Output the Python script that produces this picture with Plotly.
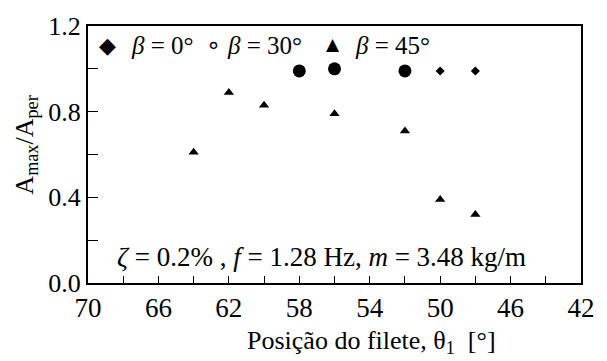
import plotly.graph_objects as go

# Amplitude ratio A_max/A_per against fillet position theta_1, for three helix angles
beta0_theta = [50, 48]
beta0_ratio = [0.99, 0.99]

beta30_theta = [58, 56, 52]
beta30_ratio = [0.99, 1.0, 0.99]

beta45_theta = [64, 62, 60, 56, 52, 50, 48]
beta45_ratio = [0.61, 0.89, 0.83, 0.79, 0.71, 0.39, 0.32]

x_tick_vals = [70, 66, 62, 58, 54, 50, 46, 42]
y_tick_vals = [0.0, 0.4, 0.8, 1.2]
y_tick_text = ["0.0", "0.4", "0.8", "1.2"]

SERIF = "Liberation Serif"
SYMB = "DejaVu Sans"

fig = go.Figure()

fig.add_trace(go.Scatter(
    x=beta0_theta, y=beta0_ratio, mode="markers", name="β = 0°",
    marker=dict(symbol="diamond", size=7, color="black"),
))
fig.add_trace(go.Scatter(
    x=beta30_theta, y=beta30_ratio, mode="markers", name="β = 30°",
    marker=dict(symbol="circle", size=13, color="black"),
))
fig.add_trace(go.Scatter(
    x=beta45_theta, y=beta45_ratio, mode="markers", name="β = 45°",
    marker=dict(symbol="triangle-up", size=9, color="black"),
))

fig.update_layout(
    width=607, height=361,
    margin=dict(l=88, r=13, t=13, b=78),
    paper_bgcolor="white", plot_bgcolor="white",
    showlegend=False,
    font=dict(family=SERIF, color="black"),
)

fig.update_xaxes(
    range=[70, 42], tickvals=x_tick_vals,
    ticks="inside", ticklen=7, tickwidth=1.2, tickcolor="black",
    minor=dict(dtick=2, tick0=70, ticks="inside", ticklen=7, tickwidth=1.2, tickcolor="black"),
    showline=True, linecolor="black", linewidth=1.6, mirror=True,
    showgrid=False, zeroline=False, ticklabeloverflow="allow",
    tickfont=dict(family=SERIF, size=27, color="black"),
)
fig.update_yaxes(
    range=[0, 1.2], tickvals=y_tick_vals, ticktext=y_tick_text,
    ticks="inside", ticklen=10, tickwidth=1.2, tickcolor="black",
    minor=dict(dtick=0.2, tick0=0, ticks="inside", ticklen=10, tickwidth=1.2, tickcolor="black"),
    showline=True, linecolor="black", linewidth=2, mirror=True,
    showgrid=False, zeroline=False, ticklabeloverflow="allow",
    tickfont=dict(family=SERIF, size=26, color="black"),
)

annotations = [
    # axis titles
    dict(text="Posição do filete, θ<sub>1</sub>&nbsp; [°]", xref="paper", yref="paper",
         x=0.576, y=-0.228, xanchor="center", yanchor="middle", showarrow=False,
         font=dict(family=SERIF, size=26)),
    dict(text="A<sub>max</sub>/A<sub>per</sub>", xref="paper", yref="paper",
         x=-0.1265, y=0.537, xanchor="center", yanchor="middle", showarrow=False,
         textangle=-90, font=dict(family=SERIF, size=26)),
    # test conditions
    dict(text="<i>ζ</i> = 0.2% , <i>f</i> = 1.28 Hz, <i>m</i> = 3.48 kg/m", xref="paper", yref="paper",
         x=0.474, y=0.1, xanchor="center", yanchor="middle", showarrow=False,
         font=dict(family=SERIF, size=27)),
    # key
    dict(text="◆", xref="paper", yref="paper", x=0.0395, y=0.926,
         xanchor="center", yanchor="middle", showarrow=False, font=dict(family=SYMB, size=22)),
    dict(text="<i>β</i> = 0°", xref="paper", yref="paper", x=0.083, y=0.926,
         xanchor="left", yanchor="middle", showarrow=False, font=dict(family=SERIF, size=25)),
    dict(text="∘", xref="paper", yref="paper", x=0.255, y=0.926,
         xanchor="center", yanchor="middle", showarrow=False, font=dict(family=SYMB, size=24)),
    dict(text="<i>β</i> = 30°", xref="paper", yref="paper", x=0.277, y=0.926,
         xanchor="left", yanchor="middle", showarrow=False, font=dict(family=SERIF, size=25)),
    dict(text="▲", xref="paper", yref="paper", x=0.496, y=0.93,
         xanchor="center", yanchor="middle", showarrow=False, font=dict(family=SYMB, size=17)),
    dict(text="<i>β</i> = 45°", xref="paper", yref="paper", x=0.5375, y=0.926,
         xanchor="left", yanchor="middle", showarrow=False, font=dict(family=SERIF, size=25)),
]
fig.update_layout(annotations=annotations)

fig.write_html("out.html")
